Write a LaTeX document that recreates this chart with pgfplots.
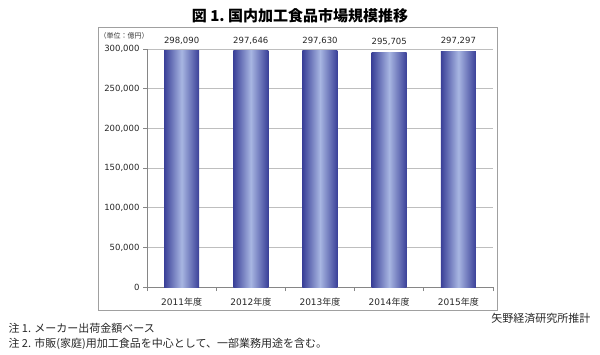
\documentclass[border=0pt]{standalone}
\usepackage{fontspec}
\setmainfont{DejaVu Sans}
\newfontfamily\cjk{Noto Sans CJK JP}
\usepackage{pgfplots}
\pgfplotsset{compat=1.18}
\definecolor{barDark}{RGB}{58,64,152}
\definecolor{barLight}{RGB}{168,182,226}
\definecolor{frameGray}{RGB}{160,160,160}
\definecolor{gridGray}{RGB}{190,190,190}
\definecolor{axisGray}{RGB}{134,134,134}
\begin{document}
\begin{tikzpicture}
\path[use as bounding box] (0pt,0pt) rectangle (600pt,-354pt);
\draw[frameGray, line width=0.8pt] (98pt,-27pt) rectangle (497pt,-310pt);
\begin{axis}[
  at={(147pt,-287pt)}, anchor=south west,
  scale only axis, width=346pt, height=238pt,
  xmin=-0.5, xmax=4.5, ymin=0, ymax=300000,
  clip=false,
  axis x line*=bottom, axis y line*=left,
  axis line style={axisGray, line width=0.6pt},
  xtick={0,1,2,3,4},
  xticklabels={2011{\cjk 年度},2012{\cjk 年度},2013{\cjk 年度},2014{\cjk 年度},2015{\cjk 年度}},
  minor xtick={-0.5,0.5,1.5,2.5,3.5,4.5},
  major x tick style={draw=none},
  minor x tick style={axisGray, line width=0.6pt},
  ytick={0,50000,100000,150000,200000,250000,300000},
  y tick style={axisGray, line width=0.6pt},
  tick align=outside,
  major tick length=4pt, minor tick length=4pt,
  ymajorgrids,
  major grid style={gridGray, line width=0.6pt},
  scaled y ticks=false,
  /pgf/number format/.cd, fixed, 1000 sep={,}, assume math mode=true,
  /pgfplots/.cd,
  tick label style={font=\fontsize{8.5}{10}\selectfont, text=black!85},
  xticklabel style={font=\fontsize{9}{11}\selectfont, yshift=-3pt},
  nodes near coords={\pgfmathprintnumber[fixed,precision=0,1000 sep={,},assume math mode=true]{\pgfplotspointmeta}},
  every node near coord/.append style={font=\fontsize{8.5}{10}\selectfont, text=black!85, yshift=3pt},
  barstyle/.style={ybar, bar width=35pt, bar shift=0pt, draw=none, left color=barDark, right color=barDark, middle color=barLight},
]
\addplot[barstyle] coordinates {(0,298090)};
\addplot[barstyle] coordinates {(1,297646)};
\addplot[barstyle] coordinates {(2,297630)};
\addplot[barstyle] coordinates {(3,295705)};
\addplot[barstyle] coordinates {(4,297297)};
\end{axis}
\node[font=\cjk\fontsize{7}{8}\selectfont, text=black!80] at (124pt,-36pt) {（単位：億円）};
\node[font=\cjk\bfseries\fontsize{15}{18}\selectfont] at (300pt,-16pt) {図 1.\ 国内加工食品市場規模推移};
\node[anchor=east, font=\cjk\fontsize{11}{13}\selectfont, text=black!85] at (594pt,-318pt) {矢野経済研究所推計};
\node[anchor=west, font=\cjk\fontsize{11}{13}\selectfont, text=black!85] at (5pt,-328pt) {注 1. メーカー出荷金額ベース};
\node[anchor=west, font=\cjk\fontsize{11}{13}\selectfont, text=black!85] at (5pt,-344pt) {注 2. 市販(家庭)用加工食品を中心として、一部業務用途を含む。};
\end{tikzpicture}
\end{document}
